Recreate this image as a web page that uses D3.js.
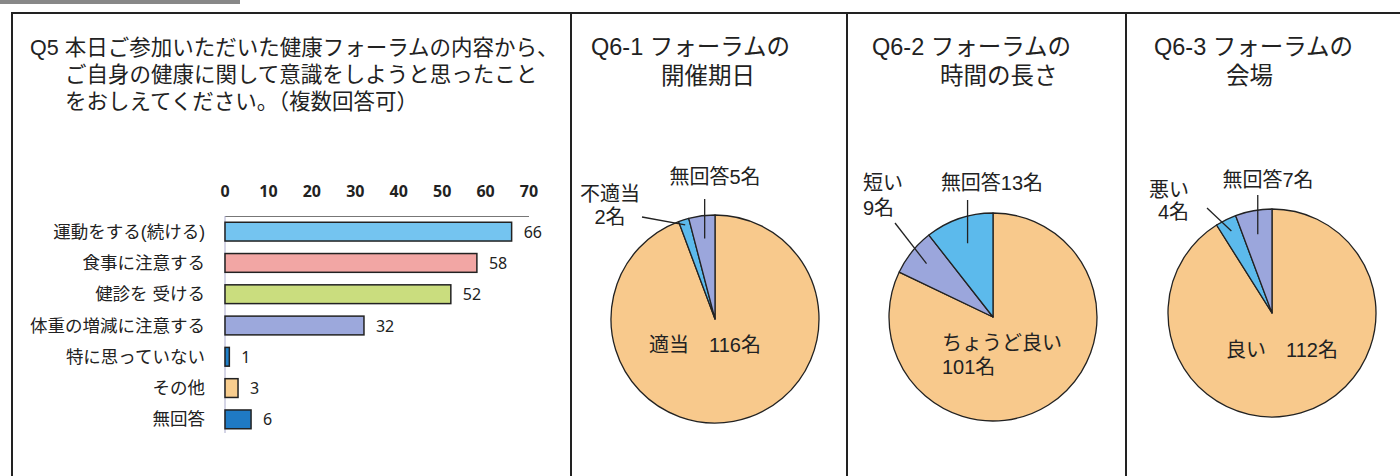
<!DOCTYPE html>
<html>
<head>
<meta charset="utf-8">
<script src="https://cdn.jsdelivr.net/npm/d3@7"></script>
<style>
    body { margin: 0; background: #fff; }
    text { font-family: "Liberation Sans", "Noto Sans CJK JP", sans-serif; fill: #222; }
</style>
</head>
<body>
<div id="chart"></div>
<script>
// Q5 (multiple answers) bar chart
const q5Title = [
    "Q5 本日ご参加いただいた健康フォーラムの内容から、",
    "ご自身の健康に関して意識をしようと思ったこと",
    "をおしえてください。（複数回答可）"
];
const q5Categories = ["運動をする(続ける)", "食事に注意する", "健診を 受ける", "体重の増減に注意する", "特に思っていない", "その他", "無回答"];
const q5Values = [66, 58, 52, 32, 1, 3, 6];
const q5Ticks = [0, 10, 20, 30, 40, 50, 60, 70];

// Q6 pies
const q6Titles = [
    ["Q6-1 フォーラムの", "開催期日"],
    ["Q6-2 フォーラムの", "時間の長さ"],
    ["Q6-3 フォーラムの", "会場"]
];
const q61Labels = ["適当", "不適当", "無回答"];
const q61Values = [116, 2, 5];
const q62Labels = ["ちょうど良い", "短い", "無回答"];
const q62Values = [101, 9, 13];
const q63Labels = ["良い", "悪い", "無回答"];
const q63Values = [112, 4, 7];

// styles
const barColors = ["#74c4f0", "#f2a6a4", "#cadd7e", "#9ca8dc", "#1f7fc8", "#f8cd8e", "#1f7ac4"];
const orange = "#f8c98c", lightBlue = "#5cbaec", lavender = "#9ba6dc";
const pieColors = [
    [orange, lightBlue, lavender],
    [orange, lavender, lightBlue],
    [orange, lightBlue, lavender]
];

const width = 1400, height = 476;

const svg = d3.select("#chart")
    .append("svg")
    .attr("width", width)
    .attr("height", height);

// scanned page decoration + panel frames
svg.append("rect")
    .attr("x", 0).attr("y", 0)
    .attr("width", 240).attr("height", 4)
    .attr("fill", "#888");

svg.append("line")
    .attr("x1", 12).attr("x2", width).attr("y1", 13).attr("y2", 13)
    .attr("stroke", "#222").attr("stroke-width", 2);

[12, 571, 847, 1126].forEach(function(x) {
    svg.append("line")
        .attr("x1", x).attr("x2", x).attr("y1", 12).attr("y2", height)
        .attr("stroke", "#222").attr("stroke-width", 2);
});

/* ---------- Q5 bar chart ---------- */
let q5 = svg.append("g");

q5.selectAll(".q5-title")
    .data(q5Title)
    .enter()
    .append("text")
    .attr("class", "q5-title")
    .attr("x", (d, i) => i == 0 ? 30 : 65)
    .attr("y", (d, i) => 55 + i * 27)
    .style("font-size", "21.5px")
    .text((d) => d);

const x = d3.scaleLinear()
    .domain([0, 70])
    .range([225, 529]);

const y = d3.scaleBand()
    .domain(q5Categories)
    .range([216, 435])
    .paddingInner(0.4)
    .paddingOuter(0.2);

// top axis
q5.append("line")
    .attr("x1", x(0)).attr("x2", x(70))
    .attr("y1", 216.5).attr("y2", 216.5)
    .attr("stroke", "#777").attr("stroke-width", 1);

q5.append("line")
    .attr("x1", x(0)).attr("x2", x(0))
    .attr("y1", 216).attr("y2", 433)
    .attr("stroke", "#aac").attr("stroke-width", 1);

q5.selectAll(".tick-label")
    .data(q5Ticks)
    .enter()
    .append("text")
    .attr("class", "tick-label")
    .attr("x", (d) => x(d))
    .attr("y", 197)
    .attr("text-anchor", "middle")
    .style("font-family", "'Noto Sans', sans-serif")
    .style("font-weight", "bold")
    .style("font-size", "16px")
    .text((d) => d);

q5.selectAll(".bar")
    .data(q5Values)
    .enter()
    .append("rect")
    .attr("class", "bar")
    .attr("x", x(0))
    .attr("y", (d, i) => y(q5Categories[i]))
    .attr("width", (d) => x(d) - x(0))
    .attr("height", y.bandwidth())
    .attr("fill", (d, i) => barColors[i])
    .attr("stroke", "#222")
    .attr("stroke-width", 1.5);

q5.selectAll(".cat-label")
    .data(q5Categories)
    .enter()
    .append("text")
    .attr("class", "cat-label")
    .attr("x", 205)
    .attr("y", (d) => y(d) + y.bandwidth() / 2 + 6)
    .attr("text-anchor", "end")
    .style("font-size", "17.5px")
    .text((d) => d);

q5.selectAll(".val-label")
    .data(q5Values)
    .enter()
    .append("text")
    .attr("class", "val-label")
    .attr("x", (d) => x(d) + 12)
    .attr("y", (d, i) => y(q5Categories[i]) + y.bandwidth() / 2 + 6)
    .style("font-family", "'Noto Sans', sans-serif")
    .style("font-size", "16px")
    .text((d) => d);

/* ---------- Q6 pies ---------- */
const pieData = [
    { labels: q61Labels, values: q61Values },
    { labels: q62Labels, values: q62Values },
    { labels: q63Labels, values: q63Values }
];

// where each pie and its labels sit
const pieLayouts = [
    { cx: 715, cy: 319, t1: 591, t2: 661,
      labels: [
          { sep: "　", x: 705, y: 352, anchor: "middle" },
          { x: 610, y: 201, dy: 23, anchor: "middle", lead: { k: 0.95, x: 642, y: 217 } },
          { sep: "", x: 715, y: 184, anchor: "middle", lead: { k: 0.78, y: 199 } }
      ] },
    { cx: 993, cy: 317, t1: 872, t2: 940,
      labels: [
          { x: 942, y: 350, dy: 24, anchor: "start" },
          { x: 863, y: 190, dy: 25, anchor: "start", lead: { k: 0.82, x: 895, y: 223 } },
          { sep: "", x: 992, y: 190, anchor: "middle", lead: { k: 0.75, y: 200 } }
      ] },
    { cx: 1272, cy: 313, t1: 1154, t2: 1226,
      labels: [
          { sep: "　", x: 1282, y: 357, anchor: "middle" },
          { x: 1189, y: 197, dy: 22, anchor: "end", lead: { k: 0.88, x: 1207, y: 208 } },
          { sep: "", x: 1268, y: 187, anchor: "middle", lead: { k: 0.77, y: 195 } }
      ] }
];

const radius = 104;
const pie = d3.pie().sort(null);
const arc = d3.arc().innerRadius(0).outerRadius(radius);

pieData.forEach(function(p, pi) {
    let lay = pieLayouts[pi];
    let g = svg.append("g");

    g.append("text")
        .attr("x", lay.t1).attr("y", 55)
        .style("font-size", "23.5px")
        .text(q6Titles[pi][0]);
    g.append("text")
        .attr("x", lay.t2).attr("y", 84)
        .style("font-size", "23.5px")
        .text(q6Titles[pi][1]);

    let arcs = pie(p.values);
    let pg = g.append("g")
        .attr("transform", "translate(" + lay.cx + "," + lay.cy + ")");

    pg.selectAll("path")
        .data(arcs)
        .enter()
        .append("path")
        .attr("d", arc)
        .attr("fill", (d, i) => pieColors[pi][i])
        .attr("stroke", "#222")
        .attr("stroke-width", 1.3)
        .attr("stroke-linejoin", "round");

    arcs.forEach(function(a, i) {
        let l = lay.labels[i];
        let name = p.labels[i], count = p.values[i] + "名";
        let lines = l.sep === undefined ? [name, count] : [name + l.sep + count];

        // one text per label, extra lines as tspans
        let t = g.append("text")
            .attr("x", l.x)
            .attr("y", l.y)
            .attr("text-anchor", l.anchor)
            .style("font-size", "20px");
        lines.forEach(function(s, li) {
            t.append("tspan")
                .attr("x", l.x)
                .attr("dy", li == 0 ? 0 : l.dy)
                .text(s);
        });

        if (l.lead) {
            let r = l.lead.k * radius;
            let c = d3.arc().innerRadius(r).outerRadius(r).centroid(a);
            let ix = lay.cx + c[0], iy = lay.cy + c[1];
            g.append("line")
                .attr("x1", l.lead.x === undefined ? ix : l.lead.x)
                .attr("y1", l.lead.y)
                .attr("x2", ix)
                .attr("y2", iy)
                .attr("stroke", "#222")
                .attr("stroke-width", 1.3);
        }
    });
});
</script>
</body>
</html>
